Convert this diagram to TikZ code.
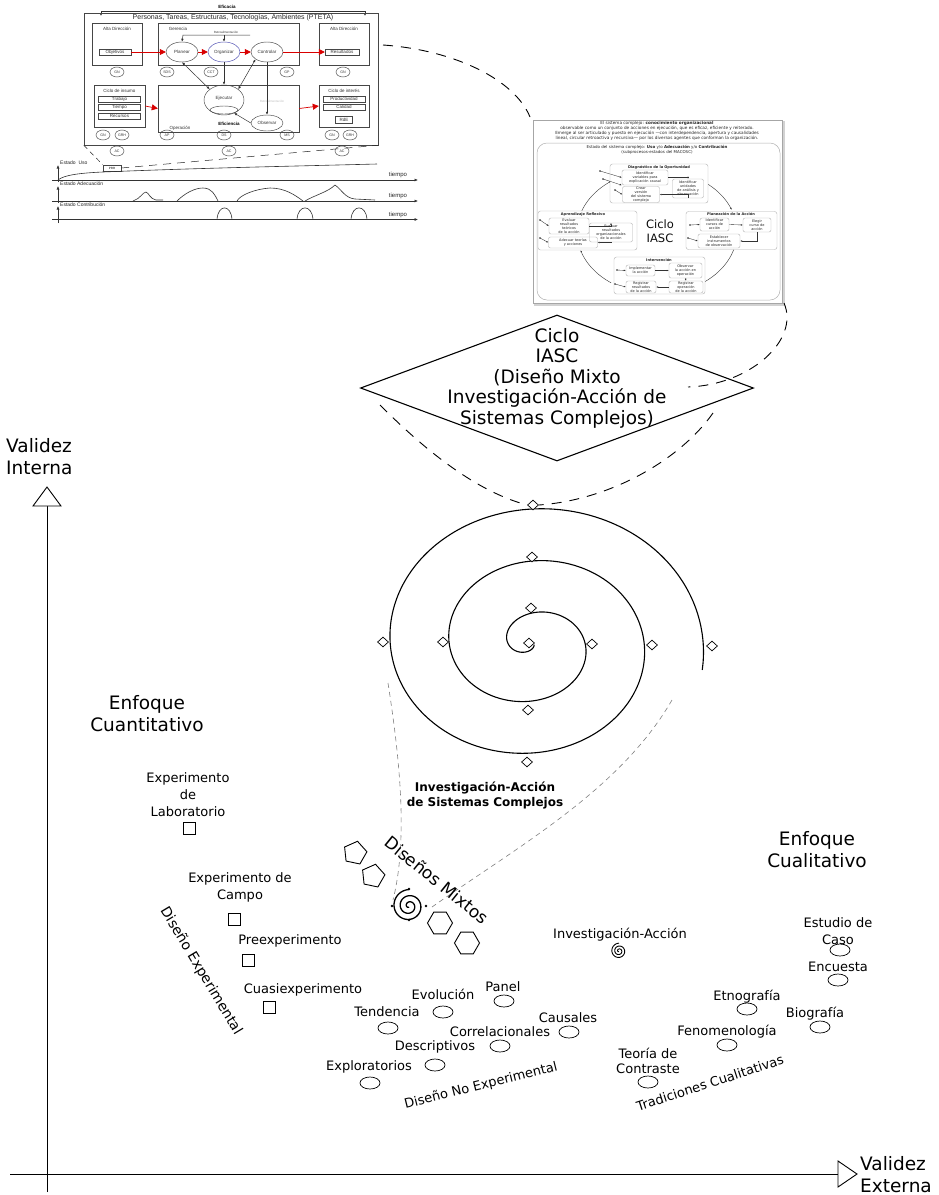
\documentclass[tikz,border=0pt]{standalone}
\usepackage{fontspec}
\setmainfont{DejaVu Sans}
\newfontfamily\arialf{Liberation Sans}
\usetikzlibrary{shapes.geometric,arrows.meta,calc}
\begin{document}
\begin{tikzpicture}[x=1pt,y=-1pt,
  lbl/.style={font=\fontsize{13}{17}\selectfont,align=center,inner sep=0pt},
  biglbl/.style={font=\fontsize{18.5}{22}\selectfont,align=center,inner sep=0pt},
  sq/.style={draw,rectangle,minimum size=12pt,inner sep=0pt,line width=0.6pt},
  ov/.style={draw,ellipse,minimum width=20pt,minimum height=12pt,inner sep=0pt,line width=0.7pt},
  dia/.style={draw,diamond,minimum width=11pt,minimum height=10pt,inner sep=0pt,fill=white,line width=0.7pt},
  pent/.style={draw,regular polygon,regular polygon sides=5,minimum size=24pt,inner sep=0pt,line width=0.9pt},
  hexa/.style={draw,regular polygon,regular polygon sides=6,minimum size=25pt,inner sep=0pt,line width=0.9pt},
  bdash/.style={dash pattern=on 10pt off 8pt,line width=0.9pt},
  gdash/.style={dash pattern=on 5pt off 4pt,line width=0.6pt,gray},
  tlc/.style={draw=gray!55!black,line width=0.45pt},
  tlt/.style={font=\arialf\fontsize{4.5}{5}\selectfont,text=gray!40!black,inner sep=0pt},
  tlbox/.style={tlc,rectangle,minimum height=6pt,inner sep=0pt,tlt},
  tlell/.style={tlc,ellipse,minimum width=32pt,minimum height=20pt,inner sep=0pt,tlt},
  tlcirc/.style={tlc,ellipse,minimum width=14pt,minimum height=10pt,inner sep=0pt,font=\arialf\fontsize{3.6}{4}\selectfont,text=gray!40!black},
  redarr/.style={red!85!black,line width=0.7pt,-{Triangle[length=6pt,width=6pt]}},
  blarr/.style={black!80,line width=0.5pt,-{Latex[length=3pt,width=2.5pt]}},
  blarr2/.style={black!80,line width=0.5pt,{Latex[length=3pt,width=2.5pt]}-{Latex[length=3pt,width=2.5pt]}},
  tchart/.style={draw=gray!40!black,line width=0.6pt},
  taxis/.style={black!80,line width=0.6pt,-{Latex[length=3.5pt,width=3pt]}},
  ttxt/.style={font=\arialf\fontsize{5}{6}\selectfont,text=gray!30!black,inner sep=0pt},
  trt/.style={font=\fontsize{3.5}{4}\selectfont,text=gray!30!black,align=center,inner sep=0pt},
  trbox/.style={draw=gray!60,rounded corners=2pt,line width=0.4pt,trt},
  trgrp/.style={draw=gray!60,rounded corners=2.5pt,line width=0.4pt},
  trarr/.style={gray!40!black,line width=0.35pt,-{Latex[length=2pt,width=1.6pt]}},
]
\useasboundingbox (0,0) rectangle (939,1195);
\fill[white] (0,0) rectangle (939,1195);

%================ TOP-LEFT EMBEDDED FIGURE =================
\node[font=\arialf\bfseries\fontsize{4.5}{5}\selectfont,inner sep=0pt] (efic) at (227,7) {Eficacia};
\coordinate (efL) at (101,16); \coordinate (efR) at (365,16);
\draw[black!80,line width=0.5pt,-{Latex[length=2.5pt,width=2.2pt]}] (233,11.5) -- (101,11.5) -- (efL);
\draw[black!80,line width=0.5pt,-{Latex[length=2.5pt,width=2.2pt]}] (233,11.5) -- (365,11.5) -- (efR);
\node[tlc,rectangle,minimum width=294pt,minimum height=132pt,inner sep=0pt] (outer) at (231,79) {};
\node[font=\arialf\fontsize{7}{8}\selectfont,text=gray!30!black,inner sep=0pt] (ptet) at (233,18) {Personas, Tareas, Estructuras, Tecnologías, Ambientes (PTETA)};
% top boxes
\node[tlc,rectangle,minimum width=50pt,minimum height=42pt,inner sep=0pt] (ad1) at (117,44) {};
\node[tlt] (ad1t) at (117,29) {Alta Dirección};
\node[tlbox,minimum width=32pt] (obj) at (115,52) {Objetivos};
\node[tlc,rectangle,minimum width=141pt,minimum height=42pt,inner sep=0pt] (ger) at (228.5,44) {};
\node[tlt] (gert) at (178,29) {Gerencia};
\node[tlell] (pl) at (182,52) {Planear};
\node[tlell,draw=blue!40!gray] (org) at (224,52) {Organizar};
\node[tlell] (con) at (267,52) {Controlar};
\node[tlc,rectangle,minimum width=50pt,minimum height=42pt,inner sep=0pt] (ad2) at (344,44) {};
\node[tlt] (ad2t) at (344,29) {Alta Dirección};
\node[tlbox,minimum width=34pt] (res) at (342,52) {Resultados};
\node[font=\arialf\fontsize{3}{3.5}\selectfont,text=gray!40!black,inner sep=0pt] (retro1) at (226,32) {Retroalimentación};
\coordinate (rb1) at (183,35); \coordinate (rb2) at (250,35);
\draw[blarr] (rb2) -- (rb1) -- (pl.north);
\draw[blarr] (224,35) -- (org.north);
\draw[redarr] (obj.east) -- (pl.west);
\draw[redarr] (pl.east) -- (org.west);
\draw[redarr] (org.east) -- (con.west);
\draw[redarr] (con.east) -- (res.west);
% circles row 1
\node[tlcirc] (c1) at (117,72) {GN};
\node[tlcirc] (c2) at (167,72) {SDS};
\node[tlcirc] (c3) at (211,72) {CCT};
\node[tlcirc] (c4) at (287,72) {GP};
\node[tlcirc] (c5) at (343,72) {GN};
% bottom boxes
\node[tlc,rectangle,minimum width=51pt,minimum height=42pt,inner sep=0pt] (ins) at (119.5,106) {};
\node[tlt] (inst) at (119.5,91) {Ciclo de insumo};
\node[tlbox,minimum width=42pt] (trab) at (119.5,99) {Trabajo};
\node[tlbox,minimum width=42pt] (tiem) at (119.5,107) {Tiempo};
\node[tlbox,minimum width=42pt] (recu) at (119.5,116) {Recursos};
\node[tlc,rectangle,minimum width=141pt,minimum height=47pt,inner sep=0pt] (ope) at (228.5,108.5) {};
\node[tlell,minimum width=40pt,minimum height=30pt] (eje) at (224,100) {\raisebox{5pt}{Ejecutar}};
\node[tlc,ellipse,minimum width=28pt,minimum height=8pt,inner sep=0pt] (ejei) at (224,110) {};
\node[tlell,minimum height=16pt] (obs) at (267,123) {Observar};
\node[font=\arialf\bfseries\fontsize{4.5}{5}\selectfont,inner sep=0pt] (efi2) at (229,124) {Eficiencia};
\node[tlt] (opt) at (180,128) {Operación};
\node[font=\arialf\fontsize{3}{3.5}\selectfont,text=gray!50,inner sep=0pt] (retro2) at (272,101) {Retroalimentación};
\node[tlc,rectangle,minimum width=50pt,minimum height=42pt,inner sep=0pt] (int) at (344,106) {};
\node[tlt] (intt) at (344,91) {Ciclo de interés};
\node[tlbox,minimum width=42pt] (prod) at (344,99) {Productividad};
\node[tlbox,minimum width=42pt] (cali) at (344,107) {Calidad};
\node[tlbox,minimum width=17pt,minimum height=7pt] (rde) at (344,120) {RdE};
\draw[redarr] (ins.east) -- (ope.west);
\draw[redarr] (ope.east) -- (int.west);
\draw[blarr2] (pl.south) -- (eje.north west);
\draw[blarr] (org.south) -- (eje.north);
\draw[blarr2] (con.south west) -- (eje.north east);
\draw[blarr] (con.south) -- (obs.north);
\draw[blarr] (obs.west) -- (ejei.south east);
% circles row 2
\node[tlcirc] (c6) at (103,135) {GN};
\node[tlcirc] (c7) at (122,135) {GRH};
\node[tlcirc] (c8) at (167,135) {AP};
\node[tlcirc] (c9) at (224,135) {DS};
\node[tlcirc] (c10) at (287,135) {MS};
\node[tlcirc] (c11) at (332,135) {GN};
\node[tlcirc] (c12) at (350,135) {GRH};
\node[tlcirc] (ac1) at (117,151) {AC};
\node[tlcirc] (ac2) at (229,151) {AC};
\node[tlcirc] (ac3) at (342,151) {AC};
% time charts
\node[ttxt,anchor=west] (eu) at (60,163) {Estado\ \ Uso};
\node[tlc,rectangle,minimum width=18pt,minimum height=6pt,inner sep=0pt,font=\arialf\fontsize{3}{3.5}\selectfont] (prr) at (112,168) {PRR};
\draw[taxis] (52,180) -- (418,180);
\draw[taxis] (58,182) -- (58,165);
\node[ttxt,font=\arialf\fontsize{6}{7}\selectfont] (t1) at (398,175) {tiempo};
\draw[tchart] (58,180) .. controls (64,175) and (80,173) .. (103,172) .. controls (200,168) and (300,166) .. (377,164);
\node[ttxt,anchor=west] (ea) at (60,183.5) {Estado Adecuación};
\draw[taxis] (52,201) -- (418,201);
\draw[taxis] (58,203) -- (58,186);
\node[ttxt,font=\arialf\fontsize{6}{7}\selectfont] (t2) at (398,195.5) {tiempo};
\draw[tchart] (133,201) .. controls (140,199) and (143,192) .. (146,192) .. controls (149,193) and (150,199) .. (156,200) -- (163,200);
\draw[tchart] (177,201) .. controls (185,193) and (195,188) .. (203,188) .. controls (212,188) and (215,195) .. (218,201);
\draw[tchart] (237,201) .. controls (240,195) and (255,189) .. (270,188) .. controls (285,188) and (295,195) .. (303,201);
\draw[tchart] (305,201) .. controls (315,195) and (328,192) .. (335,185) .. controls (342,190) and (345,198) .. (355,199) -- (375,200);
\node[ttxt,anchor=west] (ec) at (60,204.5) {Estado Contribución};
\draw[taxis] (52,219.5) -- (418,219.5);
\draw[taxis] (58,223) -- (58,206);
\node[ttxt,font=\arialf\fontsize{6}{7}\selectfont] (t3) at (398,215) {tiempo};
\draw[tchart] (217,219.5) .. controls (218,204) and (231,204) .. (232,219.5);
\draw[tchart] (297,219.5) .. controls (298,204) and (312,204) .. (313,219.5);
\draw[tchart] (351,219.5) .. controls (352,204) and (366,204) .. (367,219.5);
% zoom cone
\draw[dash pattern=on 5pt off 4pt,line width=0.5pt,gray!30!black] (outer.south west) -- (prr.north west);
\draw[dash pattern=on 8pt off 6pt,line width=0.5pt,gray!30!black] (prr.east) -- (outer.south east);

%================ TOP-RIGHT EMBEDDED FIGURE =================
\draw[gray!35,line width=1.2pt] (535,122) rectangle (784,305);
\node[draw=gray!70,fill=white,line width=0.6pt,rectangle,minimum width=249pt,minimum height=183pt,inner sep=0pt] (rfig) at (657.5,211.5) {};
\node[trt,font=\fontsize{4.2}{5}\selectfont] (rhead) at (657,130.5) {El sistema complejo: \textbf{conocimiento organizacional}\\observable como un conjunto de acciones en ejecución, que es eficaz, eficiente y reiterado.\\Emerge al ser articulado y puesto en ejecución —con interdependencia, apertura y causalidades\\lineal, circular retroactiva y recursiva— por los diversos agentes que conforman la organización.};
\node[draw=gray!60,rounded corners=10pt,line width=0.5pt,minimum width=243pt,minimum height=157pt,inner sep=0pt] (rinner) at (658.5,221.5) {};
\node[trt,font=\fontsize{4}{4.6}\selectfont] (rstate) at (657,150) {Estado del sistema complejo: \textbf{Uso} y/o \textbf{Adecuación} y/o \textbf{Contribución}\\(subprocesos-estados del MACOSC)};
% cycle arcs
\draw[trarr,line width=0.4pt] plot[domain=-51:-21,samples=20,variable=\a] ({657+80*cos(\a)},{232+62*sin(\a)});
\draw[trarr,line width=0.4pt] plot[domain=16:55,samples=20,variable=\a] ({657+80*cos(\a)},{232+62*sin(\a)});
\draw[trarr,line width=0.4pt] plot[domain=125:163,samples=20,variable=\a] ({657+80*cos(\a)},{232+62*sin(\a)});
\draw[trarr,line width=0.4pt] plot[domain=200:235,samples=20,variable=\a] ({657+80*cos(\a)},{232+62*sin(\a)});
\node[font=\fontsize{11.5}{14}\selectfont,align=center,inner sep=0pt,text=gray!10!black] (rciclo) at (660,231) {Ciclo\\IASC};
% Diagnostico
\node[trgrp,fill=white,minimum width=98pt,minimum height=39pt,inner sep=0pt] (gdiag) at (659,183.5) {};
\node[trt,font=\bfseries\fontsize{3.6}{4}\selectfont] (tdiag) at (659,167.5) {Diagnóstico de la Oportunidad};
\node[trbox,minimum width=46pt,minimum height=15pt] (d1) at (645,177.5) {Identificar\\variables para\\explicación causal};
\node[trbox,minimum width=31pt,minimum height=19pt] (d2) at (688,188.5) {Identificar\\unidades\\de análisis y\\observación};
\node[trbox,minimum width=37pt,minimum height=16pt] (d3) at (641,194.5) {Crear\\versión\\del sistema\\complejo};
\draw[trarr] (d1.east) -| (d2.north);
\draw[trarr] (d2.south) |- (d3.east);
% Aprendizaje
\node[trgrp,fill=white,minimum width=99pt,minimum height=39pt,inner sep=0pt] (gapr) at (587.5,230.5) {};
\node[trt,font=\bfseries\fontsize{3.6}{4}\selectfont] (tapr) at (583,214.5) {Aprendizaje Reflexivo};
\node[trbox,minimum width=40pt,minimum height=16pt] (a1) at (569,226) {Evaluar\\resultados\\teóricos\\de la acción};
\node[trbox,minimum width=43pt,minimum height=19pt] (a2) at (611,232.5) {Evaluar\\resultados\\organizacionales\\de la acción};
\node[trbox,minimum width=49pt,minimum height=11pt] (a3) at (573,242.5) {Adecuar teorías\\y acciones};
\draw[trarr] (a1.east) -| (a2.north);
\draw[trarr] (a2.south) |- (a3.east);
% Planeacion
\node[trgrp,fill=white,minimum width=91pt,minimum height=38pt,inner sep=0pt] (gpla) at (731.5,230.5) {};
\node[trt,font=\bfseries\fontsize{3.6}{4}\selectfont] (tpla) at (731,214.5) {Planeación de la Acción};
\node[trbox,minimum width=29pt,minimum height=13pt] (p1) at (714.5,224.5) {Identificar\\cursos de\\acción};
\node[trbox,minimum width=28pt,minimum height=14pt] (p2) at (757,225) {Elegir\\curso de\\acción};
\node[trbox,minimum width=42pt,minimum height=14pt] (p3) at (719,241) {Establecer\\instrumentos\\de observación};
\draw[trarr] (p1.east) -- (p2.west);
\draw[trarr] (p2.south) |- (p3.east);
% Intervencion
\node[trgrp,fill=white,minimum width=91pt,minimum height=37pt,inner sep=0pt] (gint) at (659.5,275.5) {};
\node[trt,font=\bfseries\fontsize{3.6}{4}\selectfont] (tint) at (659,260) {Intervención};
\node[trbox,minimum width=29pt,minimum height=11pt] (i1) at (640.5,270.5) {Implementar\\la acción};
\node[trbox,minimum width=33pt,minimum height=15pt] (i2) at (685.5,270.5) {Observar\\la acción en\\operación};
\node[trbox,minimum width=30pt,minimum height=12pt] (i3) at (641,287) {Registrar\\resultados\\de la acción};
\node[trbox,minimum width=34pt,minimum height=12pt] (i4) at (686,287) {Registrar\\operación\\de la acción};
\draw[trarr] (i1.east) -- (i2.west);
\draw[trarr] (i2.south) -- (i4.north);
\draw[trarr] (i4.west) -- (i3.east);
% incoming small arrows
\foreach \n/\x/\y/\tg in {s1/600/171/d1.west,s2/603/179/d1.south west,s3/615/190/d3.west,s4/540/220/a1.west,s5/540/238/a3.west,s6/690/225/p1.west,s7/688/238/p3.west,s8/617/270/i1.west,s9/615/284/i3.west}{
  \coordinate (\n) at (\x,\y);
  \fill[gray!30!black] (\n) circle (0.8pt);
  \draw[trarr] (\n) -- (\tg);
}

%================ DASHED CONNECTORS (top) =================
\coordinate (tlR) at (383,45);
\coordinate (trTL) at (530,117);
\draw[bdash] (tlR) .. controls (455,50) and (515,80) .. (trTL);
\coordinate (trBR) at (784,303);
\coordinate (diaIn) at (688,387);
\draw[bdash] (trBR) .. controls (800,340) and (750,385) .. (diaIn);

%================ DIAMOND =================
\node[draw,diamond,minimum width=393pt,minimum height=146pt,inner sep=0pt,line width=1.1pt] (ciclo) at (557,388) {};
\node[font=\fontsize{18.5}{20.5}\selectfont,align=center,inner sep=0pt] (ciclot) at (557,378) {Ciclo\\IASC\\(Diseño Mixto\\Investigación-Acción de\\Sistemas Complejos)};

%================ BIG SPIRAL =================
\draw[line width=1.1pt] plot[smooth,domain=-30:1000,samples=300,variable=\t] ({532+(9+\t/360*59)*cos(90+\t)},{644+(5+\t/360*52)*sin(90+\t)});
\foreach \n/\x/\y in {sd0/529/643,sd1/531/608,sd2/592/644,sd3/528/710,sd4/443/642,sd5/532/557,sd6/652/645,sd7/527/762,sd8/383/642,sd9/533/505,sd10/712/646}{
  \node[dia] (\n) at (\x,\y) {};
}
\coordinate (fL) at (380,405); \coordinate (fR) at (713,413);
\draw[bdash] (fL) .. controls (415,440) and (470,490) .. (sd9.west);
\draw[bdash] (fR) .. controls (680,460) and (610,500) .. (sd9.east);

\node[font=\bfseries\fontsize{12}{15}\selectfont,align=center,inner sep=0pt] (iasc) at (485,795) {Investigación-Acción\\de Sistemas Complejos};

% gray dashed to small spiral
\coordinate (gL) at (388,683); \coordinate (gR) at (672,700);
\coordinate (sspL) at (393,900); \coordinate (sspR) at (432,907);
\draw[gdash] (gL) .. controls (400,760) and (408,840) .. (sspL);
\draw[gdash] (gR) .. controls (620,790) and (520,845) .. (sspR);

%================ DISEÑOS MIXTOS =================
\draw[line width=1.3pt] plot[smooth,domain=0:900,samples=150,variable=\t] ({409+(1+\t/360*6.2)*cos(90+\t)},{906+(1+\t/360*6.2)*sin(90+\t)});
\foreach \n/\x/\y in {m1/409/889,m2/409/920,m3/392/906,m4/426/906}{
  \fill (\x,\y) circle (1.3pt) coordinate (\n);
}
\node[pent,rotate=-12] (pe1) at (355,853) {};
\node[pent,rotate=-12] (pe2) at (373,876) {};
\node[hexa] (hx1) at (440,923) {};
\node[hexa] (hx2) at (467,943) {};
\node[font=\fontsize{17}{20}\selectfont,inner sep=0pt,rotate=-39] (dmix) at (437,880) {Diseños Mixtos};

%================ AXES =================
\coordinate (yb) at (47,1192); \coordinate (yt) at (47,506);
\draw[line width=0.9pt] (yb) -- (yt);
\draw[line width=0.9pt,fill=white] (33,506) -- (47,487) -- (61,506) -- cycle;
\coordinate (xl) at (10,1174); \coordinate (xr) at (838,1174);
\draw[line width=0.9pt] (xl) -- (xr);
\draw[line width=0.9pt,fill=white] (838,1161) -- (857,1174) -- (838,1187) -- cycle;
\node[biglbl,align=left,anchor=west] (vint) at (6,457) {Validez\\Interna};
\node[biglbl,align=left,anchor=west] (vext) at (860,1175) {Validez\\Externa};

%================ LABELS =================
\node[biglbl] (ecuan) at (147,714) {Enfoque\\Cuantitativo};
\node[biglbl] (ecual) at (817,850) {Enfoque\\Cualitativo};

\node[lbl] (elab) at (188,795) {Experimento\\de\\Laboratorio};
\node[sq] (q1) at (189,828) {};
\node[lbl] (ecam) at (240,887) {Experimento de\\Campo};
\node[sq] (q2) at (234,919) {};
\node[lbl] (pree) at (290,941) {Preexperimento};
\node[sq] (q3) at (248,960) {};
\node[lbl] (cuas) at (303,990) {Cuasiexperimento};
\node[sq] (q4) at (269,1007) {};
\node[font=\fontsize{14}{16}\selectfont,inner sep=0pt,rotate=-59] (dexp) at (201,971) {Diseño Experimental};

\node[lbl] (evol) at (443,994) {Evolución};
\node[lbl] (pan) at (503,987) {Panel};
\node[lbl] (tend) at (387,1012) {Tendencia};
\node[lbl] (caus) at (568,1018) {Causales};
\node[lbl] (corr) at (500,1032) {Correlacionales};
\node[lbl] (desc) at (435,1047) {Descriptivos};
\node[lbl] (expl) at (369,1067) {Exploratorios};
\node[font=\fontsize{13}{15}\selectfont,inner sep=0pt,rotate=14] (dnoexp) at (481,1086) {Diseño No Experimental};

\node[lbl] (ia) at (620,935) {Investigación-Acción};
\draw[line width=0.9pt] plot[smooth,domain=0:900,samples=120,variable=\t] ({619+(0.6+\t/360*2.9)*cos(90+\t)},{951+(0.6+\t/360*2.9)*sin(90+\t)});
\node[lbl] (estc) at (838,931) {Estudio de\\Caso};
\node[lbl] (encu) at (838,967) {Encuesta};
\node[lbl] (etno) at (747,997) {Etnografía};
\node[lbl] (biog) at (815,1014) {Biografía};
\node[lbl] (feno) at (727,1032) {Fenomenología};
\node[lbl,font=\fontsize{13}{15}\selectfont] (teor) at (648,1060.5) {Teoría de\\Contraste};
\node[font=\fontsize{13}{15}\selectfont,inner sep=0pt,rotate=18] (tcual) at (710,1083) {Tradiciones Cualitativas};

\foreach \n/\x/\y in {o1/443/1012,o2/504/1001,o3/388/1028,o4/569/1032,o5/500/1046,o6/435/1065,o7/370/1083,o8/840/950,o9/838/980,o10/747/1009,o11/820/1027,o12/727/1045,o13/648/1082}{
  \node[ov] (\n) at (\x,\y) {};
}
\end{tikzpicture}
\end{document}
